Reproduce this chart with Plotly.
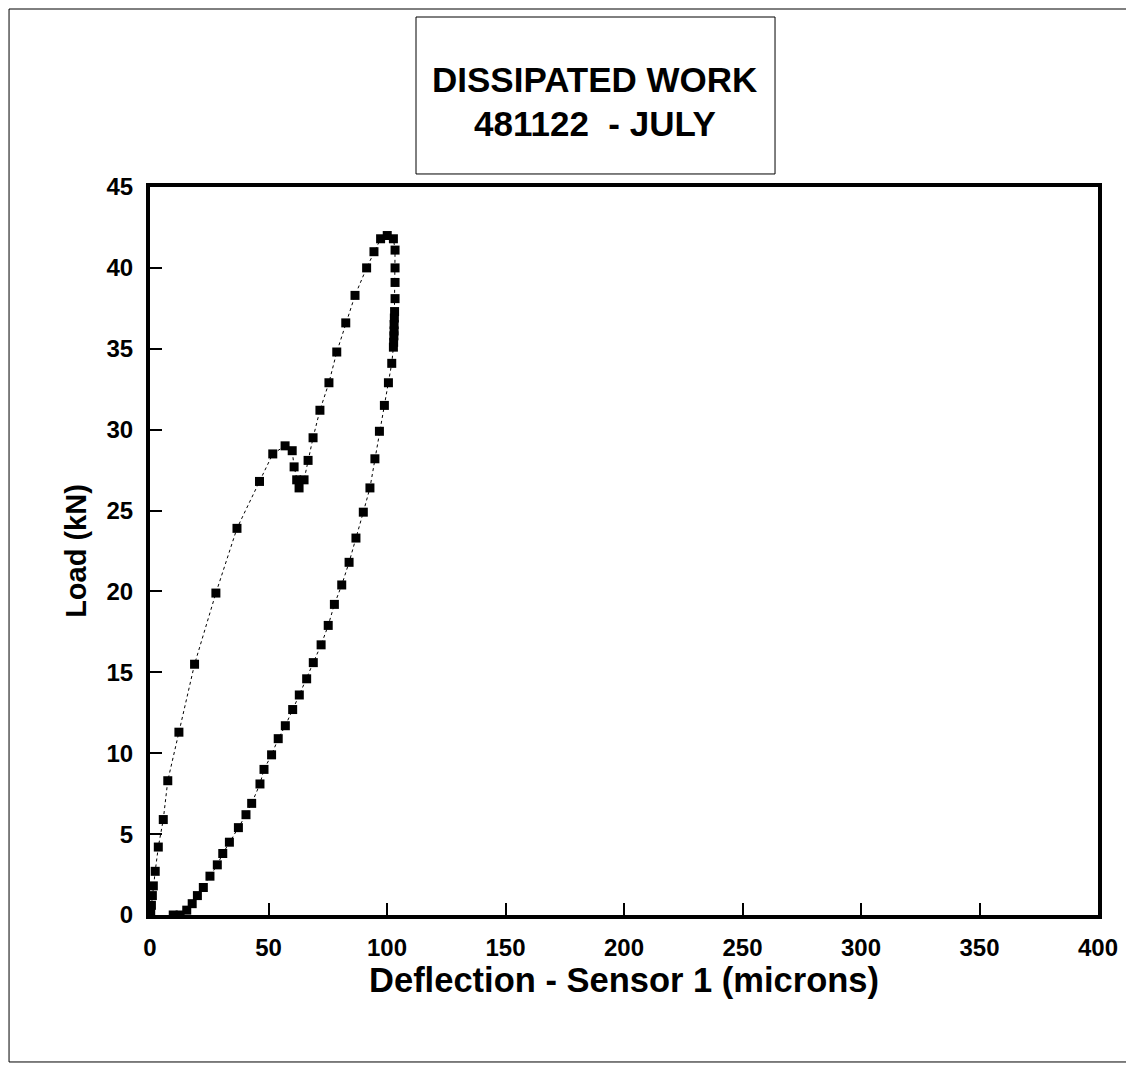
import plotly.graph_objects as go

# Loading branch (deflection in microns, load in kN)
load_x = [0, 0.3, 0.6, 1.0, 1.4, 2.2, 3.5, 5.6, 7.5, 12.2, 18.8, 27.8, 36.7, 46.2, 51.8,
          57.0, 60.0, 60.8, 61.9, 62.9, 65.0, 66.7, 68.8, 71.7, 75.5, 78.8, 82.6, 86.5,
          91.4, 94.5, 97.3, 100.1, 102.7]
load_y = [0, 0.1, 0.6, 1.2, 1.8, 2.7, 4.2, 5.9, 8.3, 11.3, 15.5, 19.9, 23.9, 26.8, 28.5,
          29.0, 28.7, 27.7, 26.9, 26.4, 26.9, 28.1, 29.5, 31.2, 32.9, 34.8, 36.6, 38.3,
          40.0, 41.0, 41.8, 42.0, 41.8]

# Unloading branch
unload_x = [103.4, 103.4, 103.4, 103.4, 103.2, 103.1, 103.0, 103.0, 102.9, 102.8, 102.7,
            102.0, 100.6, 98.9, 96.8, 94.9, 92.8, 90.0, 86.9, 84.0, 80.9, 77.8, 75.2,
            72.2, 68.9, 66.1, 63.0, 60.2, 57.1, 54.1, 51.3, 48.1, 46.4, 42.9, 40.5, 37.3,
            33.5, 30.7, 28.4, 25.3, 22.5, 20.0, 17.8, 15.5, 12.7, 9.8]
unload_y = [41.1, 40.0, 39.1, 38.1, 37.3, 36.9, 36.5, 36.1, 35.8, 35.4, 35.1, 34.1, 32.9,
            31.5, 29.9, 28.2, 26.4, 24.9, 23.3, 21.8, 20.4, 19.2, 17.9, 16.7, 15.6, 14.6,
            13.6, 12.7, 11.7, 10.9, 9.9, 9.0, 8.1, 6.9, 6.2, 5.4, 4.5, 3.8, 3.1, 2.4, 1.7,
            1.2, 0.7, 0.3, 0.0, 0.0]

x_ticks = [0, 50, 100, 150, 200, 250, 300, 350, 400]
y_ticks = [0, 5, 10, 15, 20, 25, 30, 35, 40, 45]

title_line1 = "DISSIPATED WORK"
title_line2 = "481122  - JULY"
x_title = "Deflection - Sensor 1 (microns)"
y_title = "Load (kN)"

FONT = "Liberation Sans, Arial, sans-serif"

fig = go.Figure()
fig.add_trace(go.Scatter(
    x=load_x + unload_x, y=load_y + unload_y, mode="lines+markers",
    line=dict(color="black", width=1, dash="dot"),
    marker=dict(symbol="square", size=9, color="black"),
    showlegend=False, hoverinfo="x+y"))

fig.update_layout(
    width=1126, height=1057,
    margin=dict(l=142, r=36, t=179, b=150),
    paper_bgcolor="white", plot_bgcolor="white",
    font=dict(family=FONT, color="black"),
    xaxis=dict(range=[0, 400], tickvals=x_ticks, ticktext=[str(v) for v in x_ticks],
               showgrid=False, zeroline=False, showline=True, linecolor="black",
               linewidth=4, mirror=True, ticks="inside", ticklen=12, tickwidth=2,
               tickcolor="black", ticklabelstandoff=8,
               tickfont=dict(size=24, family=FONT, weight="bold"),
               title=dict(text=x_title, standoff=4,
                          font=dict(size=34.5, family=FONT, weight="bold"))),
    yaxis=dict(range=[0, 45], tickvals=y_ticks, ticktext=[str(v) for v in y_ticks],
               showgrid=False, zeroline=False, showline=True, linecolor="black",
               linewidth=4, mirror=True, ticks="inside", ticklen=12, tickwidth=2,
               tickcolor="black", ticklabelstandoff=8,
               tickfont=dict(size=24, family=FONT, weight="bold"),
               title=dict(text=y_title, standoff=12,
                          font=dict(size=29, family=FONT, weight="bold"))),
)

# title box
fig.add_shape(type="rect", xref="paper", yref="paper",
              x0=0.2806, x1=0.6593, y0=1.0179, y1=1.2335,
              line=dict(color="black", width=1), fillcolor="white")
fig.add_annotation(text=title_line1, xref="paper", yref="paper", x=0.469, y=1.147,
                   showarrow=False, xanchor="center", yanchor="middle",
                   font=dict(size=35, family=FONT, weight="bold"))
fig.add_annotation(text=title_line2, xref="paper", yref="paper", x=0.469, y=1.087,
                   showarrow=False, xanchor="center", yanchor="middle",
                   font=dict(size=35, family=FONT, weight="bold"))

# outer border
fig.add_shape(type="rect", xref="paper", yref="paper",
              x0=-0.1487, x1=1.0359, y0=-0.2019, y1=1.2445,
              line=dict(color="black", width=1), layer="below")

fig.write_html("out.html")
